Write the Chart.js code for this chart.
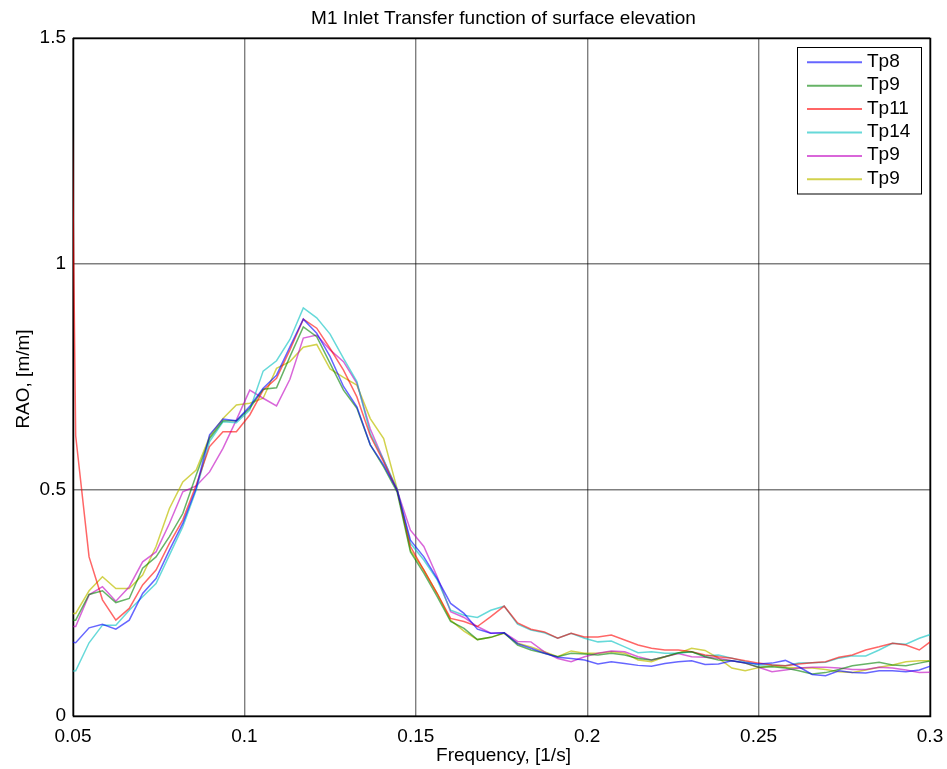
<!DOCTYPE html>
<html>
<head>
<meta charset="utf-8">
<script src="https://cdn.jsdelivr.net/npm/chart.js@4.4.1/dist/chart.umd.min.js"></script>
<style>
html,body{margin:0;padding:0;background:#fff;}
canvas{display:block;}
</style>
</head>
<body>
<canvas id="c" width="947" height="769"></canvas>
<script>
// ---------- DATA ----------
const freq = [0.046875,0.05078125,0.0546875,0.05859375,0.0625,0.06640625,0.0703125,0.07421875,0.078125,0.08203125,0.0859375,0.08984375,0.09375,0.09765625,0.1015625,
0.10546875,0.109375,0.11328125,0.1171875,0.12109375,0.125,0.12890625,0.1328125,0.13671875,0.140625,
0.14453125,0.1484375,0.15234375,0.15625,0.16015625,0.1640625,0.16796875,0.171875,0.17578125,0.1796875,
0.18359375,0.1875,0.19140625,0.1953125,0.19921875,0.203125,0.20703125,0.2109375,0.21484375,0.21875,0.22265625,0.2265625,
0.23046875,0.234375,0.23828125,0.2421875,0.24609375,0.25,0.25390625,0.2578125,0.26171875,0.265625,0.26953125,0.2734375,0.27734375,0.28125,0.28515625,0.2890625,0.29296875,0.296875,0.30078125];

const tp8 = [0.168,0.162,0.195,0.203,0.192,0.212,0.271,0.304,0.367,0.426,0.504,0.622,0.657,0.653,0.685,
0.725,0.754,0.817,0.878,0.847,0.795,0.729,0.684,0.600,0.555,
0.500,0.389,0.352,0.304,0.249,0.227,0.192,0.183,0.184,0.160,
0.150,0.139,0.130,0.127,0.124,0.115,0.120,0.116,0.112,0.110,0.116,0.120,
0.122,0.114,0.115,0.122,0.118,0.115,0.117,0.123,0.109,0.092,0.089,0.100,0.096,0.095,0.100,0.100,0.098,0.102,0.112];

const tp9a = [0.212,0.212,0.269,0.277,0.251,0.260,0.327,0.352,0.397,0.448,0.533,0.614,0.653,0.653,0.681,
0.723,0.726,0.795,0.861,0.839,0.780,0.721,0.681,0.600,0.551,
0.496,0.363,0.316,0.264,0.209,0.194,0.169,0.174,0.184,0.157,
0.146,0.139,0.131,0.139,0.137,0.135,0.139,0.135,0.127,0.124,0.131,0.140,
0.142,0.131,0.124,0.122,0.117,0.108,0.109,0.106,0.100,0.093,0.096,0.103,0.111,0.115,0.119,0.113,0.111,0.117,0.123];

const tp11 = [3.26,0.620,0.352,0.257,0.212,0.238,0.290,0.323,0.382,0.434,0.511,0.596,0.629,0.629,0.666,
0.721,0.747,0.810,0.878,0.858,0.813,0.765,0.706,0.620,0.562,
0.500,0.375,0.323,0.271,0.216,0.209,0.198,0.220,0.243,0.206,
0.192,0.186,0.172,0.183,0.175,0.175,0.179,0.168,0.157,0.150,0.146,0.146,
0.142,0.135,0.131,0.128,0.122,0.117,0.113,0.111,0.115,0.118,0.120,0.130,0.135,0.146,0.153,0.161,0.157,0.146,0.168];

const tp14 = [0.097,0.100,0.162,0.201,0.201,0.234,0.264,0.293,0.356,0.419,0.500,0.607,0.651,0.649,0.677,
0.763,0.786,0.833,0.903,0.881,0.845,0.791,0.740,0.625,0.566,
0.503,0.382,0.345,0.301,0.234,0.223,0.218,0.234,0.243,0.203,
0.190,0.184,0.172,0.183,0.172,0.164,0.166,0.153,0.140,0.142,0.139,0.139,
0.142,0.133,0.135,0.128,0.120,0.113,0.113,0.111,0.117,0.118,0.119,0.128,0.133,0.133,0.146,0.161,0.159,0.172,0.182];

const tp9b = [0.198,0.198,0.268,0.286,0.254,0.286,0.341,0.363,0.426,0.496,0.509,0.540,0.592,0.655,0.721,
0.703,0.686,0.745,0.836,0.843,0.810,0.784,0.736,0.635,0.566,
0.500,0.411,0.375,0.308,0.231,0.218,0.198,0.183,0.184,0.165,
0.164,0.142,0.127,0.120,0.131,0.139,0.144,0.142,0.131,0.124,0.131,0.138,
0.131,0.130,0.128,0.122,0.117,0.108,0.098,0.102,0.106,0.108,0.108,0.106,0.103,0.103,0.108,0.106,0.102,0.096,0.097];

const tp9c = [0.227,0.227,0.277,0.308,0.282,0.282,0.312,0.375,0.459,0.518,0.544,0.618,0.658,0.688,0.692,
0.703,0.769,0.784,0.816,0.822,0.768,0.749,0.732,0.658,0.614,
0.503,0.367,0.323,0.271,0.212,0.188,0.169,0.174,0.183,0.161,
0.153,0.142,0.131,0.144,0.139,0.139,0.142,0.139,0.124,0.120,0.131,0.139,
0.150,0.145,0.128,0.106,0.100,0.107,0.111,0.108,0.106,0.106,0.103,0.098,0.096,0.102,0.108,0.113,0.120,0.122,0.122];

const seriesLabels = ['Tp8','Tp9','Tp11','Tp14','Tp9','Tp9'];
const seriesValues = [tp8, tp9a, tp11, tp14, tp9b, tp9c];
const seriesColors = ['rgba(0,0,255,0.6)','rgba(0,128,0,0.6)','rgba(255,0,0,0.6)','rgba(0,191,191,0.6)','rgba(191,0,191,0.6)','rgba(191,191,0,0.7)'];

const xTicks = [0.05,0.1,0.15,0.2,0.25,0.3];
const xTickLabels = ['0.05','0.1','0.15','0.2','0.25','0.3'];
const yTicks = [0,0.5,1,1.5];
const yTickLabels = ['0','0.5','1','1.5'];

const titleText = 'M1 Inlet Transfer function of surface elevation';
const xTitle = 'Frequency, [1/s]';
const yTitle = 'RAO, [m/m]';

// ---------- CHART ----------
const FONT = "'Liberation Sans', Arial, Helvetica, sans-serif";

const datasets = seriesValues.map((vals, i) => ({
  label: seriesLabels[i],
  data: freq.map((f, j) => ({x: f, y: vals[j]})),
  borderColor: seriesColors[i],
  backgroundColor: seriesColors[i],
  borderWidth: 1.5,
  pointRadius: 0,
  tension: 0,
  fill: false,
  clip: 0
}));

const decor = {
  id: 'decor',
  beforeDatasetsDraw(chart) {
    const ctx = chart.ctx;
    const a = chart.chartArea;
    ctx.save();
    ctx.strokeStyle = '#000';
    ctx.lineWidth = 1.5;
    ctx.strokeRect(Math.round(a.left) + 0.5, Math.round(a.top) + 0.5, Math.round(a.right - a.left), Math.round(a.bottom - a.top));
    ctx.restore();
  },
  afterDraw(chart) {
    const ctx = chart.ctx;
    const a = chart.chartArea;
    ctx.save();
    // title
    ctx.fillStyle = '#000';
    ctx.font = '19px ' + FONT;
    ctx.textAlign = 'center';
    ctx.textBaseline = 'alphabetic';
    ctx.fillText(titleText, (a.left + a.right) / 2 + 2, 24);
    // x title
    ctx.fillText(xTitle, (a.left + a.right) / 2 + 2, 761);
    // y title
    ctx.save();
    ctx.translate(29, (a.top + a.bottom) / 2 + 2);
    ctx.rotate(-Math.PI / 2);
    ctx.fillText(yTitle, 0, 0);
    ctx.restore();
    // legend
    const lx = 797.5, ly = 47.5, lw = 124, lh = 146.5;
    ctx.fillStyle = '#fff';
    ctx.fillRect(lx, ly, lw, lh);
    ctx.strokeStyle = '#000';
    ctx.lineWidth = 1;
    ctx.strokeRect(lx, ly, lw, lh);
    ctx.textAlign = 'left';
    chart.data.datasets.forEach((ds, i) => {
      const yy = 62.3 + i * 23.4;
      ctx.strokeStyle = ds.borderColor;
      ctx.lineWidth = 2;
      ctx.beginPath();
      ctx.moveTo(807, yy);
      ctx.lineTo(862, yy);
      ctx.stroke();
      ctx.fillStyle = '#000';
      ctx.fillText(ds.label, 867, yy + 4.5);
    });
    ctx.restore();
  }
};

new Chart(document.getElementById('c'), {
  type: 'line',
  data: { datasets },
  options: {
    responsive: false,
    animation: false,
    devicePixelRatio: 1,
    layout: { padding: { left: 0, right: 17, top: 38, bottom: 0 } },
    plugins: { legend: { display: false }, title: { display: false }, tooltip: { enabled: false } },
    scales: {
      x: {
        type: 'linear',
        min: 0.05, max: 0.3,
        afterBuildTicks: s => { s.ticks = xTicks.map(v => ({ value: v })); },
        afterFit: s => { s.height = 53; s.paddingLeft = 0; s.paddingRight = 0; },
        ticks: {
          autoSkip: false, maxRotation: 0, minRotation: 0,
          padding: 9,
          color: '#000',
          font: { family: FONT, size: 19 },
          callback: (v, i) => xTickLabels[i]
        },
        grid: { color: 'rgba(0,0,0,0.5)', lineWidth: 1.4, drawTicks: false },
        border: { display: false }
      },
      y: {
        type: 'linear',
        min: 0, max: 1.5,
        afterBuildTicks: s => { s.ticks = yTicks.map(v => ({ value: v })); },
        afterFit: s => { s.width = 73; s.paddingTop = 0; s.paddingBottom = 0; },
        ticks: {
          autoSkip: false,
          padding: 7,
          color: '#000',
          font: { family: FONT, size: 19 },
          callback: (v, i) => yTickLabels[i]
        },
        grid: { color: 'rgba(0,0,0,0.5)', lineWidth: 1.4, drawTicks: false },
        border: { display: false }
      }
    }
  },
  plugins: [decor]
});
</script>
</body>
</html>
